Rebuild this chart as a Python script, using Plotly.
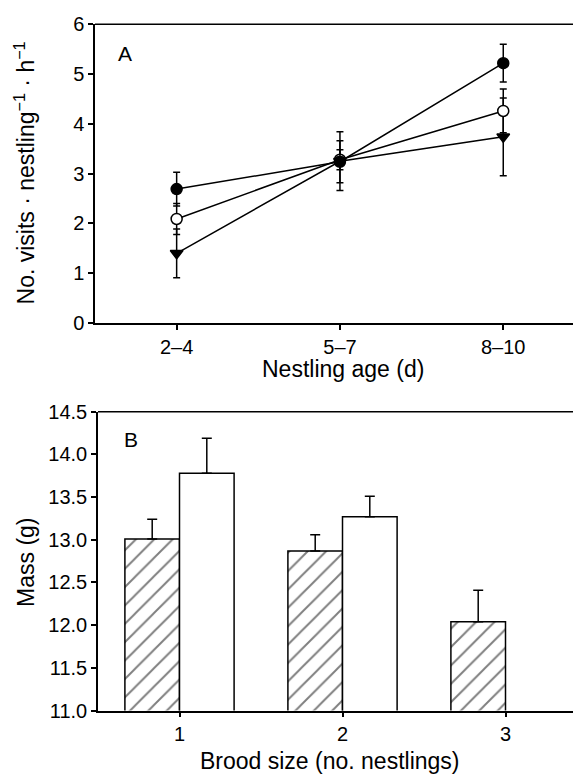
import plotly.graph_objects as go

# ---- Panel A data ----
age_labels = ["2–4", "5–7", "8–10"]
age_pos = [1, 2, 3]
filled_mean = [2.69, 3.24, 5.22]
filled_err = [0.34, 0.42, 0.38]
open_mean = [2.09, 3.28, 4.26]
open_err = [0.31, 0.20, 0.44]
tri_mean = [1.40, 3.25, 3.74]
tri_err = [0.49, 0.59, 0.78]

# ---- Panel B data ----
brood_hatched_x = [1, 2, 3]
brood_hatched = [13.01, 12.87, 12.04]
brood_hatched_err = [0.23, 0.19, 0.37]
brood_open_x = [1, 2]
brood_open = [13.78, 13.27]
brood_open_err = [0.41, 0.24]
brood_ticks = [1, 2, 3]
mass_ticks = [11.0, 11.5, 12.0, 12.5, 13.0, 13.5, 14.0, 14.5]

# page body has an 8px margin; size the figure so the page fits the window
OFF = 8
W, H = 581 - 2 * OFF, 783 - 2 * OFF
FONT = "Liberation Sans, Arial, Helvetica, sans-serif"
TICK = 20
TITLE = 23
LW = 1.5


def px(x):
    return (x - OFF) / W


def py(y):
    return 1 - (y - OFF) / H


fig = go.Figure()


def series(y, err, symbol, fill):
    fig.add_trace(go.Scatter(
        x=age_pos, y=y, mode="lines+markers",
        line=dict(color="black", width=LW),
        marker=dict(symbol=symbol, size=11, color=fill,
                    line=dict(color="black", width=1.5)),
        error_y=dict(type="data", array=err, visible=True,
                     color="black", thickness=LW, width=3.5),
        xaxis="x", yaxis="y", showlegend=False, cliponaxis=False))


series(tri_mean, tri_err, "triangle-down", "black")
series(open_mean, open_err, "circle", "white")
series(filled_mean, filled_err, "circle", "black")

fig.add_trace(go.Bar(
    x=brood_hatched_x, y=brood_hatched,
    marker=dict(color="white", line=dict(color="black", width=LW),
                pattern=dict(shape="/", fgcolor="black", bgcolor="white",
                             size=13, solidity=0.15)),
    error_y=dict(type="data", array=brood_hatched_err, arrayminus=[0, 0, 0],
                 symmetric=False, visible=True, color="black",
                 thickness=LW, width=5),
    xaxis="x2", yaxis="y2", showlegend=False))
fig.add_trace(go.Bar(
    x=brood_open_x, y=brood_open,
    marker=dict(color="white", line=dict(color="black", width=LW)),
    error_y=dict(type="data", array=brood_open_err, arrayminus=[0, 0],
                 symmetric=False, visible=True, color="black",
                 thickness=LW, width=5),
    xaxis="x2", yaxis="y2", showlegend=False))

axis_common = dict(showline=True, linecolor="black", linewidth=LW,
                   ticks="outside", ticklen=5, tickwidth=LW, tickcolor="black",
                   showgrid=False, zeroline=False,
                   tickfont=dict(family=FONT, size=TICK, color="black"))

right_ref = OFF + W  # reference pixel of figure's right edge
ya = [py(321), py(13.5)]
yb = [py(720), py(412.3)]

fig.update_layout(
    width=W, height=H,
    margin=dict(l=0, r=0, t=0, b=0),
    paper_bgcolor="white", plot_bgcolor="white",
    barmode="group", bargap=0.33, bargroupgap=0,
    xaxis=dict(domain=[px(95), 1], range=[0.5, 0.5 + (right_ref - 95) / 163.3],
               tickvals=age_pos, ticktext=age_labels, anchor="y", **axis_common),
    yaxis=dict(domain=ya, range=[0, 6], dtick=1, anchor="x", **axis_common),
    xaxis2=dict(domain=[px(98), 1], range=[0.5, 0.5 + (right_ref - 98) / 163.0],
                tickvals=brood_ticks, anchor="y2", **axis_common),
    yaxis2=dict(domain=yb, range=[11, 14.5], tickvals=mass_ticks,
                tickformat=".1f", anchor="x2", **axis_common),
)

# top frame lines (right side is cropped in the reference)
fig.add_shape(type="line", xref="paper", yref="paper", x0=px(95), x1=1.01,
              y0=ya[1], y1=ya[1], line=dict(color="black", width=LW))
fig.add_shape(type="line", xref="paper", yref="paper", x0=px(98), x1=1.01,
              y0=yb[1], y1=yb[1], line=dict(color="black", width=LW))


def ann(text, x, y, size, angle=0):
    fig.add_annotation(text=text, x=px(x), y=py(y), xref="paper", yref="paper",
                       showarrow=False, textangle=angle, xanchor="center", yanchor="middle",
                       font=dict(family=FONT, size=size, color="black"))


ann("A", 125, 44, 21)
ann("B", 131, 441, 21)
ann("Nestling age (d)", 342.5, 368, TITLE)
ann("Brood size (no. nestlings)", 330, 772, TITLE)
ann("No. visits · nestling<sup>−1</sup> · h<sup>−1</sup>", 25, 167, TITLE, -90)
ann("Mass (g)", 26, 568, TITLE, -90)

fig.write_html("out.html")
